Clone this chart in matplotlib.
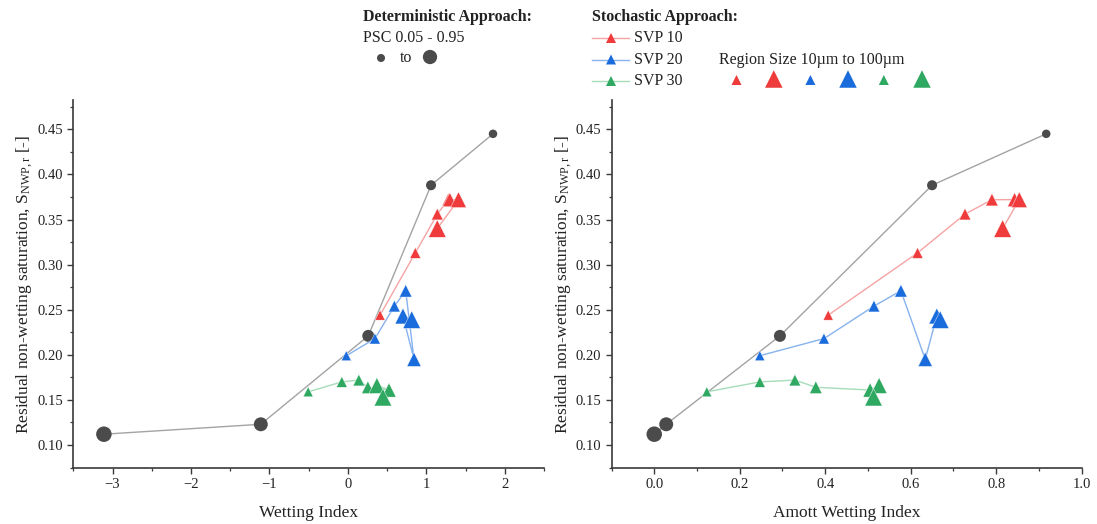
import matplotlib
matplotlib.use("Agg")
import matplotlib.pyplot as plt
from matplotlib.ticker import MultipleLocator, FormatStrFormatter

plt.rcParams['font.family'] = ['Liberation Serif', 'DejaVu Serif']
plt.rcParams['mathtext.fontset'] = 'custom'
plt.rcParams['mathtext.rm'] = 'Liberation Serif'
plt.rcParams['mathtext.it'] = 'Liberation Serif:italic'

# ---------------- data ----------------
# Deterministic approach (pore size cutoff 0.05 -> 0.95)
psc = [0.05, 0.25, 0.50, 0.75, 0.95]
det_wi = [1.85, 1.06, 0.26, -1.11, -3.11]
det_amott = [0.917, 0.650, 0.294, 0.028, 0.0]
det_snwp = [0.445, 0.388, 0.221, 0.123, 0.112]

# Stochastic approach, region size 10 um -> 100 um
region_size = [10, 20, 30, 40, 60, 80, 100]

svp10_wi = [0.41, 0.86, 1.14, 1.28, 1.30, 1.41, 1.14]
svp10_amott = [0.407, 0.616, 0.727, 0.790, 0.843, 0.854, 0.815]
svp10_snwp = [0.244, 0.313, 0.356, 0.372, 0.372, 0.372, 0.340]

svp20_wi = [-0.02, 0.345, 0.593, 0.737, 0.843, 0.702, 0.814]
svp20_amott = [0.247, 0.397, 0.514, 0.577, 0.634, 0.661, 0.669]
svp20_snwp = [0.199, 0.218, 0.254, 0.271, 0.195, 0.243, 0.239]

svp30_wi = [-0.506, -0.077, 0.14, 0.255, 0.524, 0.37, 0.447]
svp30_amott = [0.123, 0.247, 0.329, 0.378, 0.505, 0.526, 0.513]
svp30_snwp = [0.159, 0.170, 0.172, 0.164, 0.161, 0.166, 0.153]

svp_labels = ['SVP 10', 'SVP 20', 'SVP 30']

# ---------------- styling ----------------
GRAY_MK = '#4b4b4b'
GRAY_LN = '#a3a3a3'
MK_COLORS = ['#ef3b3b', '#1a6bdc', '#2fa862']
LN_COLORS = ['#f6a3a3', '#86b2ee', '#a6dcba']
AX_COLOR = '#3a3a3a'
TXT_COLOR = '#222222'

PX = 0.72  # points per pixel at 100 dpi


def circle_area(p):
    d = 8.5 + (p - 0.05) / 0.90 * 7.0
    return (d * PX) ** 2


def tri_area(s):
    w = 10.0 + (s - 10) / 90.0 * 7.5
    return (w * PX) ** 2


fig = plt.figure(figsize=(10.97, 5.24), dpi=100)

W, H = 1097.0, 524.0
ax_l = fig.add_axes([73.3 / W, 1 - 468.3 / H, (544 - 73.3) / W, (468.3 - 100.0) / H])
ax_r = fig.add_axes([611.5 / W, 1 - 468.3 / H, (1081.7 - 611.5) / W, (468.3 - 100.0) / H])

svp_sets_l = [(svp10_wi, svp10_snwp), (svp20_wi, svp20_snwp), (svp30_wi, svp30_snwp)]
svp_sets_r = [(svp10_amott, svp10_snwp), (svp20_amott, svp20_snwp), (svp30_amott, svp30_snwp)]

for ax, dx, sets in [(ax_l, det_wi, svp_sets_l), (ax_r, det_amott, svp_sets_r)]:
    ax.plot(dx, det_snwp, color=GRAY_LN, lw=1.0, zorder=1)
    ax.scatter(dx, det_snwp, s=[circle_area(p) for p in psc], color=GRAY_MK,
               edgecolors='none', zorder=2)
    for (sx, sy), mc, lc in zip(sets[::-1], MK_COLORS[::-1], LN_COLORS[::-1]):
        ax.plot(sx, sy, color=lc, lw=1.0, zorder=3)
        ax.scatter(sx, sy, s=[tri_area(s) for s in region_size], marker='^',
                   color=mc, edgecolors='white', linewidths=0.3, zorder=4)

    ax.set_ylim(0.0742, 0.4825)
    ax.yaxis.set_major_locator(MultipleLocator(0.05))
    ax.yaxis.set_minor_locator(MultipleLocator(0.025))
    ax.yaxis.set_major_formatter(FormatStrFormatter('%.2f'))
    for side in ['top', 'right']:
        ax.spines[side].set_visible(False)
    for side in ['left', 'bottom']:
        ax.spines[side].set_color(AX_COLOR)
        ax.spines[side].set_linewidth(1.2)
    ax.tick_params(which='major', direction='out', length=4.3, width=1.0,
                   color=AX_COLOR, labelsize=10.5, labelcolor=TXT_COLOR, pad=3)
    ax.tick_params(which='minor', direction='out', length=2.5, width=0.9, color=AX_COLOR)
    ax.set_ylabel('Residual non-wetting saturation, S$_{\\mathrm{NWP,r}}$ [-]',
                  fontsize=12.5, color=TXT_COLOR, labelpad=1.5)

ax_l.set_xlim(-3.5, 2.5)
ax_l.xaxis.set_minor_locator(MultipleLocator(0.5))
ax_l.set_xticks([-3, -2, -1, 0, 1, 2])
ax_l.set_xticklabels(['\u22123', '\u22122', '\u22121', '0', '1', '2'])
ax_l.set_xlabel('Wetting Index', fontsize=12.5, color=TXT_COLOR, labelpad=9.5)

ax_r.set_xlim(-0.1, 1.0)
ax_r.xaxis.set_major_locator(MultipleLocator(0.2))
ax_r.xaxis.set_minor_locator(MultipleLocator(0.1))
ax_r.xaxis.set_major_formatter(FormatStrFormatter('%.1f'))
ax_r.set_xlabel('Amott Wetting Index', fontsize=12.5, color=TXT_COLOR, labelpad=9.5)

# ---------------- key (drawn in pixel space) ----------------
key = fig.add_axes([0, 0, 1, 1])
key.set_xlim(0, W)
key.set_ylim(H, 0)
key.axis('off')
key.patch.set_visible(False)

FS = 11.5
key.text(363, 17, 'Deterministic Approach:', fontsize=FS, fontweight='bold',
         color=TXT_COLOR, ha='left', va='center')
key.text(363, 38, 'PSC 0.05 - 0.95', fontsize=FS, color=TXT_COLOR, ha='left', va='center')
key.scatter([381], [58], s=circle_area(0.05) * 0.9, color=GRAY_MK, edgecolors='none')
key.text(406, 58, 'to', fontsize=FS, color=TXT_COLOR, ha='center', va='center')
key.scatter([430], [57], s=circle_area(0.95) * 0.85, color=GRAY_MK, edgecolors='none')

key.text(592, 17, 'Stochastic Approach:', fontsize=FS, fontweight='bold',
         color=TXT_COLOR, ha='left', va='center')
for i, (lab, mc, lc) in enumerate(zip(svp_labels, MK_COLORS, LN_COLORS)):
    yy = 38 + i * 21.5
    key.plot([592, 629], [yy, yy], color=lc, lw=1.0)
    key.scatter([611], [yy], s=tri_area(10), marker='^', color=mc, edgecolors='none', zorder=3)
    key.text(634, yy, lab, fontsize=FS, color=TXT_COLOR, ha='left', va='center')

key.text(719, 60, 'Region Size 10\u00b5m to 100\u00b5m', fontsize=FS, color=TXT_COLOR,
         ha='left', va='center')
key_x = [736.5, 773.8, 810.4, 848, 883.8, 922]
for j, mc in enumerate(MK_COLORS):
    key.scatter([key_x[2 * j]], [80], s=tri_area(10), marker='^', color=mc, edgecolors='none')
    key.scatter([key_x[2 * j + 1]], [79], s=tri_area(100), marker='^', color=mc, edgecolors='none')

fig.savefig('out.png', dpi=100)
